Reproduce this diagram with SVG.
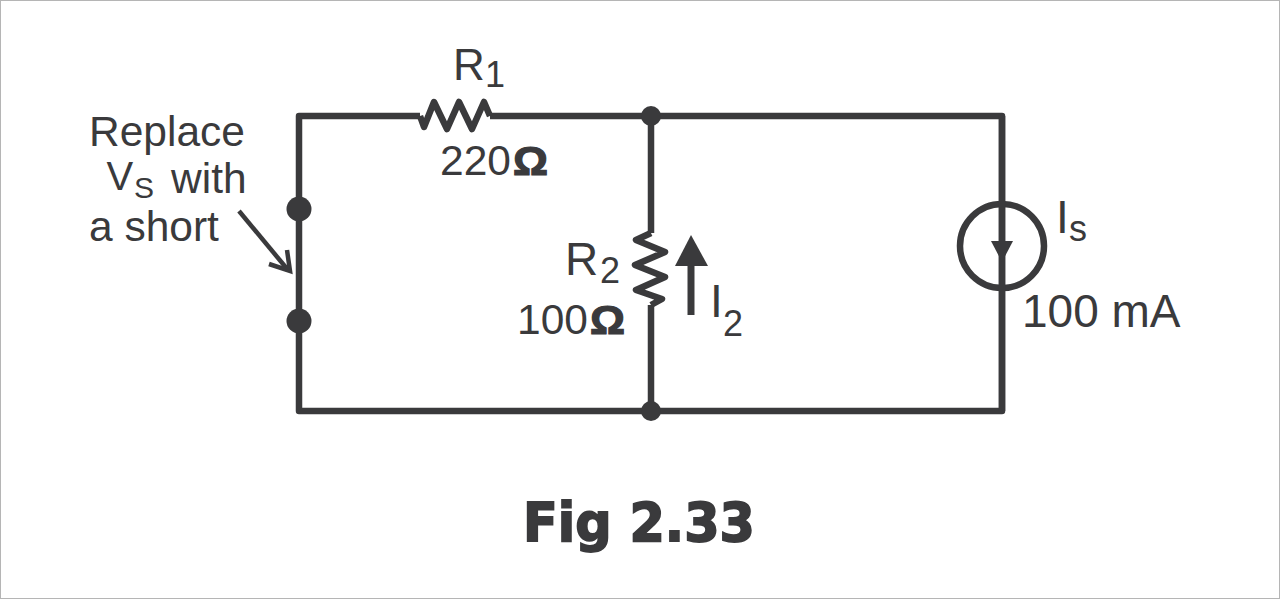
<svg xmlns="http://www.w3.org/2000/svg" width="1280" height="599" viewBox="0 0 1280 599">
<style>
.w{fill:none;stroke:#3a3a3c;stroke-width:6.5;stroke-linejoin:round}
.t{fill:#3a3a3c;font-family:"Liberation Sans",Arial,sans-serif;font-size:42.5px}
.b{fill:#3a3a3c;font-family:"Liberation Sans",Arial,sans-serif;font-size:46px}
.s{fill:#3a3a3c;font-family:"Liberation Sans",Arial,sans-serif;font-size:36px}
.d{fill:#3a3a3c}
.o{fill:#3a3a3c;stroke:#3a3a3c;stroke-width:1.2;font-family:"Liberation Sans",Arial,sans-serif;font-size:40px;font-weight:bold}
</style>
<rect x="0.5" y="0.5" width="1279" height="598" fill="#fff" stroke="#b5b5b5"/>
<g id="connectors">
<path class="w" stroke-linejoin="miter" d="M420 116H299V411H1002V116H490"/>
<path class="w" d="M651 116V233M651 305V411"/>
<path d="M239 211L288 270" fill="none" stroke="#3a3a3c" stroke-width="4.5"/>
<path d="M269 264L290 271L287 250" fill="none" stroke="#3a3a3c" stroke-width="4.5"/>
</g>
<g id="R1">
<path class="w" d="M420 116L424 127L434 102L447 129L459 102L472 129L484 102L490 116"/>
<text class="b" x="453" y="80" style="font-size:44px">R</text><text class="s" x="485" y="87">1</text>
<text class="t" x="440" y="175">220</text><text class="o" x="513" y="175" textLength="35" lengthAdjust="spacingAndGlyphs">Ω</text>
</g>
<g id="R2">
<path class="w" d="M651 233L636 240L665 252L635 265L665 277L636 290L662 299L651 305"/>
<text class="b" x="565" y="275">R</text><text class="s" x="600" y="283">2</text>
<text class="t" x="517" y="334">100</text><text class="o" x="590" y="334" textLength="35" lengthAdjust="spacingAndGlyphs">Ω</text>
</g>
<g id="I2">
<path d="M691 315V262" stroke="#3a3a3c" stroke-width="7" fill="none"/>
<path class="d" d="M691 235L708 266H675Z"/>
<text class="b" x="710" y="317">I</text><text class="s" x="723" y="336">2</text>
</g>
<g id="Is">
<circle cx="1002" cy="246" r="42" fill="none" stroke="#3a3a3c" stroke-width="6.5"/>
<path d="M1002 116V411" stroke="#3a3a3c" stroke-width="6.5"/>
<path class="d" d="M991 241H1013L1002 262Z"/>
<text class="b" x="1056" y="233">I</text><text class="s" x="1069" y="241">s</text>
<text class="b" x="1022" y="327">100 mA</text>
</g>
<g id="switch">
<circle class="d" cx="299" cy="209" r="12.5"/>
<circle class="d" cx="299" cy="321" r="12.5"/>
</g>
<g id="junctions">
<circle class="d" cx="651" cy="116" r="10"/>
<circle class="d" cx="651" cy="411" r="10"/>
</g>
<g id="note">
<text class="t" x="89" y="146">Replace</text>
<text class="t" x="106.5" y="190" style="font-size:40px">V</text><text class="s" x="134" y="198" style="font-size:30px">S</text><text class="t" x="171" y="193">with</text>
<text class="t" x="89" y="241">a short</text>
</g>
<text x="523" y="541" fill="#3a3a3c" stroke="#3a3a3c" stroke-width="1.8" font-family="'DejaVu Sans',sans-serif" font-weight="bold" font-size="54px" textLength="232" lengthAdjust="spacingAndGlyphs">Fig 2.33</text>
</svg>
